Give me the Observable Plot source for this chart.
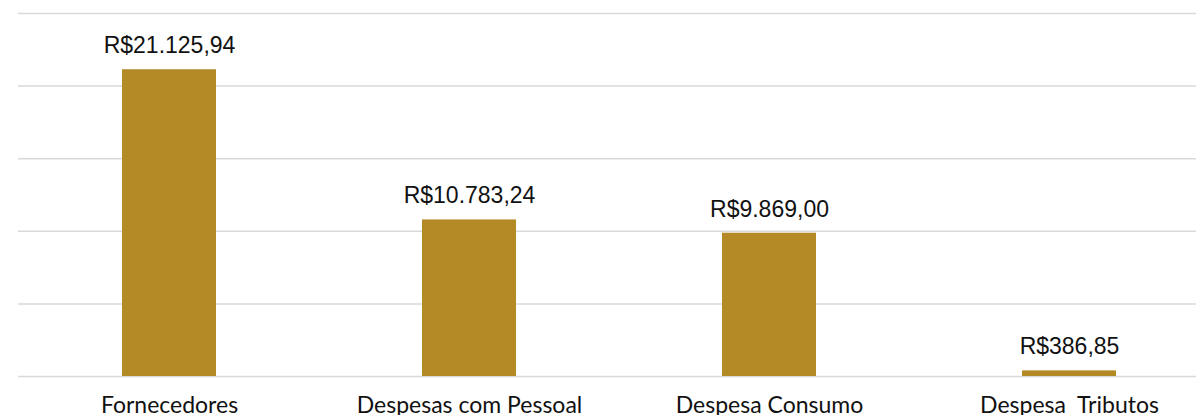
<!DOCTYPE html>
<html>
<head>
<meta charset="utf-8">
<script src="https://cdn.jsdelivr.net/npm/d3@7"></script>
<script src="https://cdn.jsdelivr.net/npm/@observablehq/plot@0.6"></script>
<style>
  html, body { margin: 0; padding: 0; background: #fff; }
  #chart svg { overflow: visible; }
</style>
</head>
<body>
<div id="chart"></div>
<script>
const categories = ["Fornecedores", "Despesas com Pessoal", "Despesa Consumo", "Despesa\u00a0 Tributos"];
const values = [21125.94, 10783.24, 9869.00, 386.85];
const labels = ["R$21.125,94", "R$10.783,24", "R$9.869,00", "R$386,85"];
const yTicks = [0, 5000, 10000, 15000, 20000, 25000];

const data = categories.map((c, i) => ({category: c, value: values[i], label: labels[i]}));

const chart = Plot.plot({
  width: 1196,
  height: 415,
  marginTop: 13,
  marginBottom: 39,
  marginLeft: 18,
  marginRight: 0,
  style: {background: "#fff", overflow: "visible"},
  x: {domain: categories, range: [18, 1221], paddingInner: 0.686, paddingOuter: 0.343, axis: null},
  y: {domain: [0, 25000], axis: null},
  marks: [
    Plot.ruleY(yTicks, {stroke: "#d9d9d9", strokeWidth: 1.5}),
    Plot.barY(data, {x: "category", y: "value", fill: "#b48a27"}),
    Plot.text(data, {x: "category", y: "value", text: "label", dy: -24, fontSize: 23, fill: "#111", fontFamily: "Liberation Sans, Arial, sans-serif"}),
    Plot.text(data, {x: "category", y: 0, text: "category", dy: 29, fontSize: 23, fill: "#111", fontFamily: "Lato, sans-serif", textAnchor: "middle"})
  ]
});
document.getElementById("chart").appendChild(chart);
</script>
</body>
</html>
